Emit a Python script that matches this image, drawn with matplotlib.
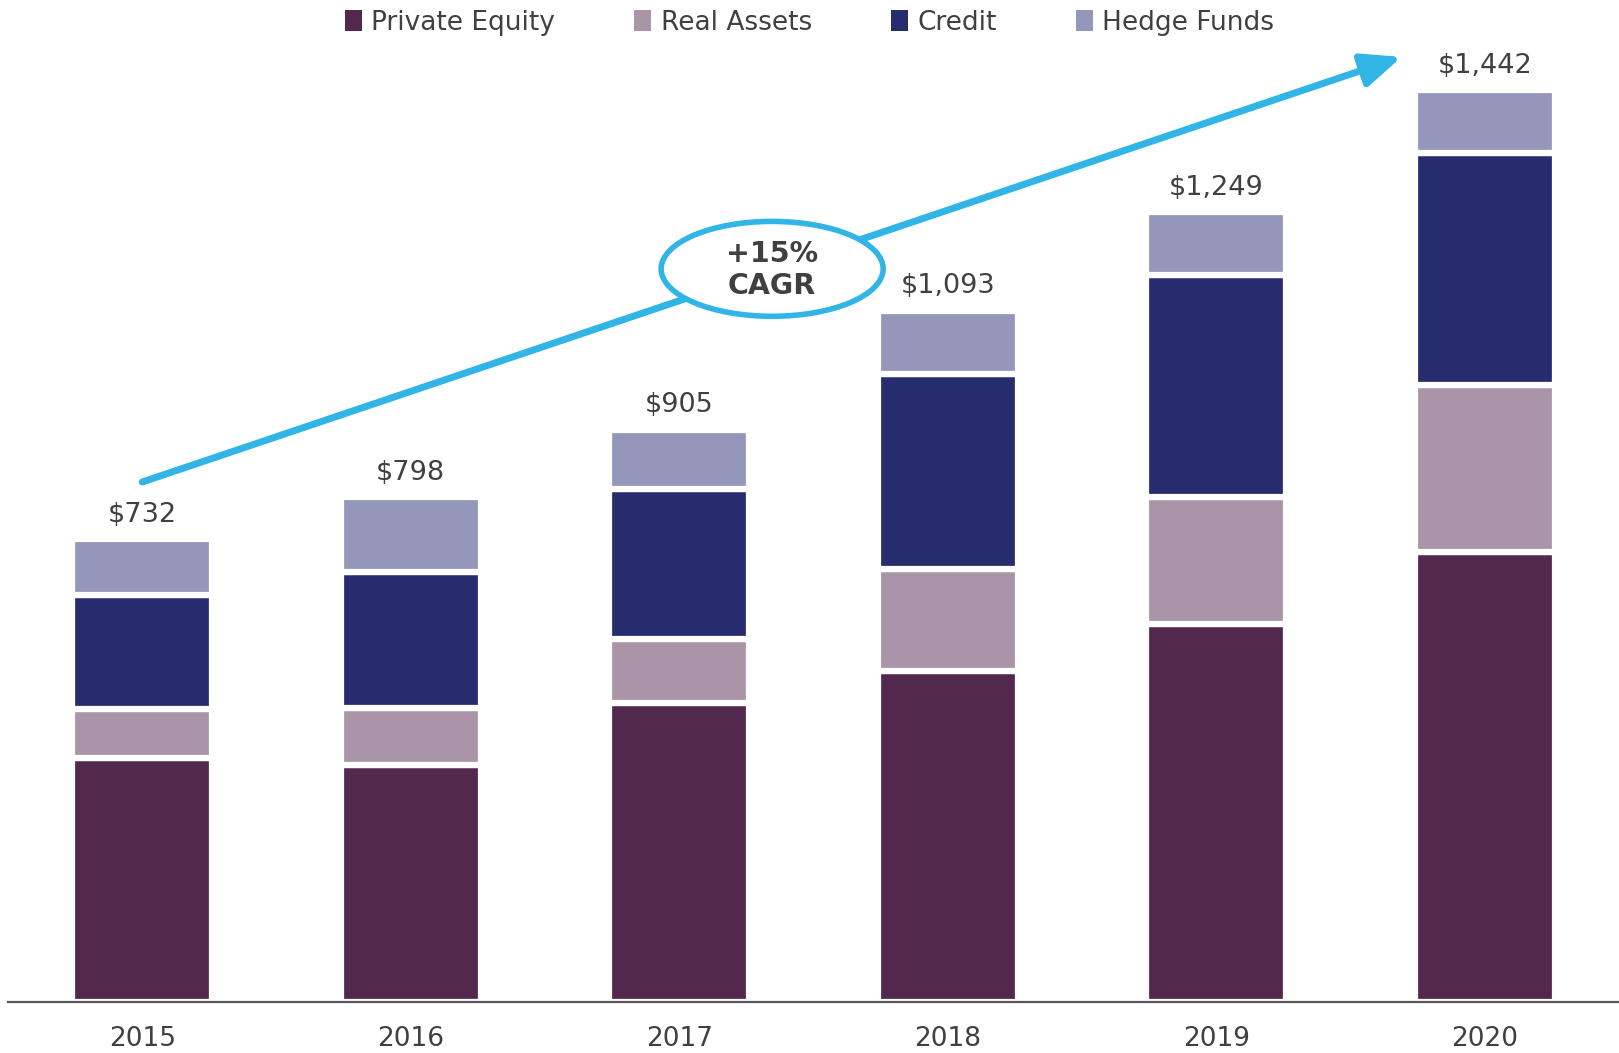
import matplotlib.pyplot as plt
import numpy as np
from matplotlib.patches import Ellipse, Patch

plt.rcParams["font.family"] = ["DejaVu Sans"]

years = ["2015", "2016", "2017", "2018", "2019", "2020"]
private_equity = [385, 375, 473, 524, 598, 711]
real_assets = [78, 90, 101, 161, 201, 265]
credit = [181, 214, 237, 308, 350, 366]
hedge_funds = [88, 119, 94, 100, 100, 100]
totals = ["$732", "$798", "$905", "$1,093", "$1,249", "$1,442"]

series = [
    ("Private Equity", private_equity, "#52284E"),
    ("Real Assets", real_assets, "#A995A7"),
    ("Credit", credit, "#272C6E"),
    ("Hedge Funds", hedge_funds, "#9497BA"),
]
text_color = "#404040"
arrow_color = "#31B4E6"

fig = plt.figure(figsize=(16.19, 10.53), dpi=100)
ax = fig.add_axes([8 / 1619, 51 / 1053, 1 - 8 / 1619, 1 - 51 / 1053])

x = np.arange(len(years))
bottom = np.zeros(len(years))
for name, vals, color in series:
    ax.bar(x, vals, width=0.52, bottom=bottom, color=color,
           edgecolor="white", linewidth=4.5, label=name)
    bottom += np.array(vals)

# total labels on top of each stack
for xi, top, label in zip(x, bottom, totals):
    ax.annotate(label, (xi, top), xytext=(0, 8), textcoords="offset points",
                ha="center", va="bottom", fontsize=19.5, color=text_color)

ax.set_xlim(-0.5, 5.5)
ax.set_ylim(0, 1584)
ax.set_xticks(x)
ax.set_xticklabels(years, fontsize=19, color=text_color)
ax.tick_params(axis="x", length=0, pad=17)
ax.set_yticks([])
for side in ["left", "right", "top"]:
    ax.spines[side].set_visible(False)
ax.spines["bottom"].set_color("#595959")
ax.spines["bottom"].set_linewidth(1.6)

# growth arrow with CAGR bubble
ax.annotate("", xy=(4.69, 1494), xytext=(0, 822),
            arrowprops=dict(arrowstyle="-|>,head_length=0.7,head_width=0.3",
                            color=arrow_color, lw=5,
                            mutation_scale=34, shrinkA=0, shrinkB=0))
ax.add_patch(Ellipse((2.346, 1159), 0.827, 150, facecolor="white",
                     edgecolor=arrow_color, linewidth=4, zorder=5))
ax.text(2.346, 1157, "+15%\nCAGR", ha="center", va="center", fontsize=20.5,
        fontweight="bold", color=text_color, linespacing=1.2, zorder=6)

handles = [Patch(facecolor=c, label=n) for n, _, c in series]
fig.legend(handles=handles, loc="center", bbox_to_anchor=(0.5, 1 - 23 / 1053),
           ncol=4, frameon=False, fontsize=19, labelcolor=text_color,
           handlelength=0.65, handleheight=0.85, handletextpad=0.35,
           columnspacing=3.0)

fig.savefig("out.png", dpi=100)
